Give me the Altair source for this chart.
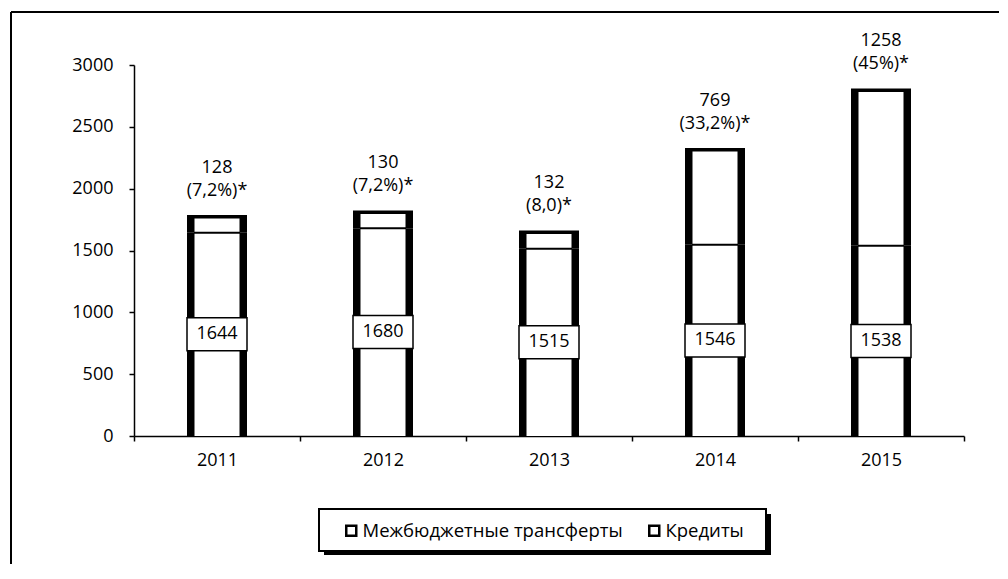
import altair as alt
import pandas as pd

years = ["2011", "2012", "2013", "2014", "2015"]
transfers = [1644, 1680, 1515, 1546, 1538]
credits = [128, 130, 132, 769, 1258]
credit_notes = ["(7,2%)*", "(7,2%)*", "(8,0)*", "(33,2%)*", "(45%)*"]
series = ["Межбюджетные трансферты", "Кредиты"]
y_ticks = [0, 500, 1000, 1500, 2000, 2500, 3000]

FONT = "Open Sans"
FS = 18
W, H = 830, 371
# legend frame (pixels relative to plot origin)
BX, BY, BW, BH = 185, 444, 447, 42

rows = []
for i, yr in enumerate(years):
    rows.append({"year": yr, "series": series[0], "value": transfers[i], "ord": 0})
    rows.append({"year": yr, "series": series[1], "value": credits[i], "ord": 1})
seg = pd.DataFrame(rows)

lab = pd.DataFrame({
    "year": years,
    "mid": [t / 2 for t in transfers],
    "bound": transfers,
    "text": [str(t) for t in transfers],
    "total": [t + c for t, c in zip(transfers, credits)],
    "note": [f"{c}\n{n}" for c, n in zip(credits, credit_notes)],
})

xenc = alt.X("year:N", title=None, sort=years,
             scale=alt.Scale(paddingInner=0, paddingOuter=0),
             axis=alt.Axis(labelAngle=0, tickBand="extent", tickSize=5, tickColor="black",
                           domainColor="black", domainWidth=1.5, tickWidth=1.5,
                           labelFont=FONT, labelFontSize=FS, labelColor="black", labelPadding=10))
yscale = alt.Scale(domain=[0, 3000], nice=False)
xs = alt.X("year:N", sort=years)

outer = alt.Chart(seg).mark_bar(size=60, color="black").encode(
    x=xenc,
    y=alt.Y("value:Q", stack="zero", scale=yscale, title=None,
            axis=alt.Axis(values=y_ticks, format="d", grid=False, tickSize=5, tickColor="black",
                          tickWidth=1.5, domainColor="black", domainWidth=1.5, labelFont=FONT,
                          labelFontSize=FS, labelColor="black", labelPadding=16)),
    order=alt.Order("ord:Q"),
)

inner = alt.Chart(seg).mark_bar(size=45).encode(
    x=xs,
    y=alt.Y("value:Q", stack="zero", scale=yscale),
    color=alt.Color("series:N", sort=series,
                    scale=alt.Scale(domain=series, range=["white", "white"]),
                    legend=alt.Legend(title=None, orient="none", legendX=208, legendY=456,
                                      direction="horizontal", padding=0,
                                      symbolType="square", symbolSize=100,
                                      symbolStrokeColor="black", symbolStrokeWidth=2.5,
                                      symbolFillColor="white",
                                      labelFont=FONT, labelFontSize=18.5, labelColor="black",
                                      labelOffset=2, columnPadding=21, labelLimit=400)),
    order=alt.Order("ord:Q"),
)

divider = alt.Chart(lab).mark_tick(color="black", size=46, thickness=2, opacity=1).encode(
    x=xs, y=alt.Y("bound:Q", scale=yscale))
top_edge = alt.Chart(lab).mark_tick(color="black", size=60, thickness=3.5, opacity=1).encode(
    x=xs, y=alt.Y("total:Q", scale=yscale))

box = alt.Chart(lab).mark_point(
    shape="M-1,-0.55L1,-0.55L1,0.55L-1,0.55Z", size=3600, filled=True,
    fill="white", stroke="black", strokeWidth=1.5, opacity=1,
).encode(x=xs, y=alt.Y("mid:Q", scale=yscale))

box_text = alt.Chart(lab).mark_text(font=FONT, fontSize=FS, color="black").encode(
    x=xs, y=alt.Y("mid:Q", scale=yscale), text="text:N")

notes = alt.Chart(lab).mark_text(font=FONT, fontSize=FS, color="black", lineBreak="\n",
                                 lineHeight=23, baseline="middle", dy=-49).encode(
    x=xs, y=alt.Y("total:Q", scale=yscale), text="note:N")

one = alt.Data(values=[{}])
frame_top = alt.Chart(one).mark_rule(color="black", strokeWidth=2).encode(
    x=alt.value(-123), x2=alt.value(W + 35), y=alt.value(-53))
frame_left = alt.Chart(one).mark_rule(color="black", strokeWidth=2).encode(
    x=alt.value(-123), y=alt.value(-53), y2=alt.value(H + 128))
legend_shadow = alt.Chart(one).mark_rect(color="black").encode(
    x=alt.value(BX + 5), x2=alt.value(BX + BW + 5), y=alt.value(BY + 5), y2=alt.value(BY + BH + 4))
legend_box = alt.Chart(one).mark_rect(fill="white", stroke="black", strokeWidth=2).encode(
    x=alt.value(BX), x2=alt.value(BX + BW), y=alt.value(BY), y2=alt.value(BY + BH))

chart = alt.layer(frame_top, frame_left, legend_shadow, legend_box, outer, inner, divider,
                  top_edge, box, box_text, notes).properties(
    width=W, height=H, background="white",
    padding={"left": 2, "top": 3, "right": 0, "bottom": 0}
).configure_view(stroke="transparent", strokeWidth=0)

chart.save("out.html", embed_options={"renderer": "svg", "actions": False})
